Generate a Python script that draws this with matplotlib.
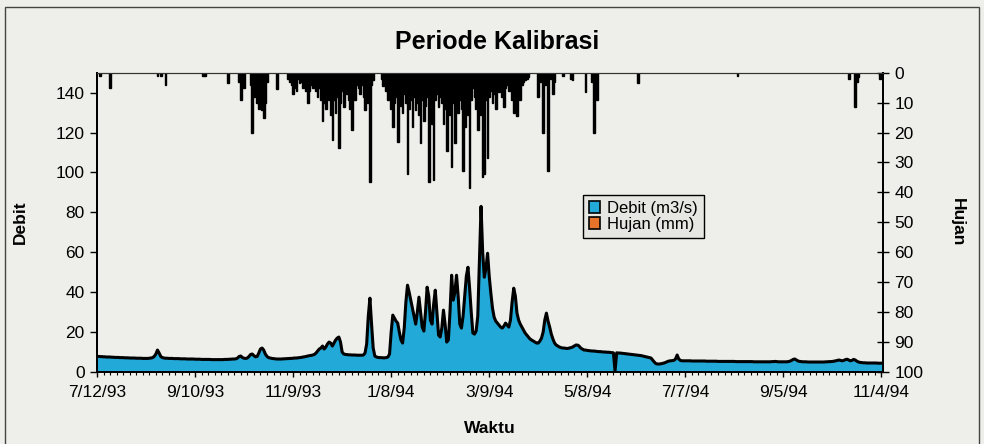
import numpy as np
import matplotlib as mpl
mpl.use("Agg")
import matplotlib.pyplot as plt
import matplotlib.dates as mdates
from matplotlib.patches import Patch, Rectangle

plt.rcParams['font.family'] = ['Liberation Sans', 'DejaVu Sans']

# daily discharge (m3/s), starting 7/12/93
start = np.datetime64('1993-07-12')
debit = [
    7.8, 7.8, 7.7, 7.7, 7.6, 7.6, 7.5, 7.5, 7.5, 7.4,
    7.4, 7.3, 7.3, 7.3, 7.2, 7.2, 7.2, 7.1, 7.1, 7.1,
    7.0, 7.0, 7.0, 7.0, 6.9, 6.9, 6.9, 6.9, 6.8, 6.8,
    6.8, 6.8, 6.9, 7.0, 7.2, 7.8, 9.0, 11.0, 9.5, 7.8,
    7.2, 7.0, 6.9, 6.9, 6.8, 6.8, 6.8, 6.7, 6.7, 6.7,
    6.7, 6.6, 6.6, 6.6, 6.6, 6.5, 6.5, 6.5, 6.5, 6.5,
    6.4, 6.4, 6.4, 6.4, 6.3, 6.3, 6.3, 6.3, 6.3, 6.3,
    6.2, 6.2, 6.2, 6.2, 6.2, 6.2, 6.2, 6.2, 6.3, 6.3,
    6.3, 6.4, 6.4, 6.5, 6.5, 6.6, 7.0, 7.8, 8.0, 7.2,
    6.9, 6.8, 7.0, 7.8, 8.8, 9.0, 8.2, 7.6, 7.8, 9.5,
    11.5, 12.0, 11.0, 9.0, 7.8, 7.2, 7.0, 6.8, 6.7, 6.6,
    6.5, 6.5, 6.5, 6.5, 6.6, 6.6, 6.7, 6.7, 6.8, 6.8,
    6.9, 7.0, 7.0, 7.1, 7.2, 7.3, 7.5, 7.6, 7.8, 8.0,
    8.2, 8.3, 8.5, 8.8, 9.5, 10.5, 11.5, 12.0, 13.0, 11.5,
    12.5, 14.0, 15.0, 14.5, 13.0, 14.5, 16.0, 17.0, 17.5, 15.0,
    10.0, 9.0, 8.8, 8.7, 8.6, 8.6, 8.5, 8.5, 8.5, 8.4,
    8.4, 8.4, 8.4, 8.5, 9.5, 14.0, 28.0, 37.0, 24.0, 12.0,
    8.0, 7.5, 7.3, 7.2, 7.2, 7.1, 7.1, 7.2, 7.5, 9.0,
    20.0, 28.5, 27.0, 25.5, 24.5, 20.0, 16.0, 14.5, 22.0, 35.0,
    43.5, 40.0, 36.0, 32.0, 28.0, 24.0, 30.0, 37.5, 30.0, 22.5,
    20.5, 30.0, 42.5, 38.0, 26.0, 24.0, 34.0, 41.0, 30.0, 18.5,
    17.5, 22.0, 31.0, 24.0, 15.0, 16.0, 30.0, 48.5, 36.0, 40.0,
    48.5, 38.0, 24.0, 22.0, 28.0, 38.0, 48.0, 52.5, 42.0, 30.0,
    19.5, 19.0, 20.5, 28.0, 55.0, 83.0, 60.0, 47.5, 52.0, 59.5,
    48.0, 39.5, 32.0, 27.5, 25.5, 24.5, 23.5, 22.5, 22.0, 23.0,
    24.5, 23.5, 22.5, 26.0, 35.0, 42.0, 38.0, 29.5, 26.0, 24.0,
    22.5, 21.0, 19.5, 18.5, 17.5, 16.5, 16.0, 15.5, 15.0, 14.5,
    14.5, 15.5, 17.0, 20.0, 26.0, 29.5, 25.5, 22.5, 19.0, 16.5,
    14.5, 13.5, 13.0, 12.5, 12.2, 12.0, 12.0, 11.8, 11.8, 12.0,
    12.2, 12.5, 13.0, 13.5, 13.5, 13.0, 12.0, 11.5, 11.0, 11.0,
    10.8, 10.7, 10.6, 10.5, 10.5, 10.4, 10.3, 10.2, 10.2, 10.1,
    10.0, 10.0, 9.9, 9.9, 9.8, 9.7, 9.6, 0.5, 9.6, 9.5,
    9.5, 9.4, 9.3, 9.2, 9.1, 9.0, 8.9, 8.8, 8.7, 8.6,
    8.5, 8.4, 8.3, 8.2, 8.0, 7.8, 7.6, 7.4, 7.2, 7.0,
    6.0, 5.0, 4.2, 4.0, 4.0, 4.1, 4.3, 4.5, 4.8, 5.2,
    5.5, 5.6, 5.7, 5.8, 6.5, 8.5, 6.5, 5.8, 5.6, 5.6,
    5.6, 5.6, 5.6, 5.6, 5.5, 5.5, 5.5, 5.5, 5.5, 5.5,
    5.5, 5.5, 5.5, 5.4, 5.4, 5.4, 5.4, 5.4, 5.4, 5.4,
    5.3, 5.3, 5.3, 5.3, 5.3, 5.3, 5.3, 5.3, 5.3, 5.3,
    5.3, 5.2, 5.2, 5.2, 5.2, 5.2, 5.2, 5.2, 5.2, 5.2,
    5.2, 5.2, 5.1, 5.1, 5.1, 5.1, 5.1, 5.1, 5.1, 5.1,
    5.1, 5.1, 5.1, 5.2, 5.2, 5.3, 5.2, 5.1, 5.1, 5.1,
    5.1, 5.1, 5.1, 5.2, 5.4, 5.8, 6.3, 6.5, 6.0, 5.5,
    5.3, 5.2, 5.1, 5.1, 5.1, 5.0, 5.0, 5.0, 5.0, 5.0,
    5.0, 5.0, 5.0, 5.0, 5.0, 5.0, 5.1, 5.1, 5.2, 5.2,
    5.3, 5.4, 5.6, 5.8, 6.0, 5.8, 5.6, 5.8, 6.2, 6.4,
    6.0, 5.6, 5.8, 6.3, 6.0, 5.4, 5.0, 4.8, 4.7, 4.6,
    4.6, 4.5, 4.5, 4.5, 4.5, 4.5, 4.5, 4.5, 4.4, 4.4, 4.4, 4.4,
]

# rainy days (day number from 7/12/93) and daily rainfall (mm)
rain_day = [
    2, 8, 37, 39, 42, 65, 66, 80, 87, 88, 89, 90, 94, 95, 96, 97, 98, 99,
    100, 101, 102, 103, 104, 110,
    117, 118, 119, 120, 121, 122, 123, 124, 125, 126, 127, 128, 129,
    130, 131, 132, 133, 134, 135, 136, 137, 138, 139,
    140, 141, 142, 143, 144, 145, 146, 147, 148, 149,
    150, 151, 152, 153, 154, 155, 156, 157, 158, 159,
    160, 161, 162, 163, 164, 165, 166, 167, 168, 169,
    174, 175, 176, 177, 178, 179,
    180, 181, 182, 183, 184, 185, 186, 187, 188, 189,
    190, 191, 192, 193, 194, 195, 196, 197, 198, 199,
    200, 201, 202, 203, 204, 205, 206, 207, 208, 209,
    210, 211, 212, 213, 214, 215, 216, 217, 218, 219,
    220, 221, 222, 223, 224, 225, 226, 227, 228, 229,
    230, 231, 232, 233, 234, 235, 236, 237, 238, 239,
    240, 241, 242, 243, 244, 245, 246, 247, 248, 249,
    250, 251, 252, 253, 254, 255, 256, 257, 258, 259,
    260, 261, 262, 263, 264,
    270, 271, 273, 274, 276, 278, 279, 280, 285, 290, 291, 299,
    303, 304, 305, 306, 331, 392, 460, 464, 465, 466, 479,
]
rain_mm = [
    1, 5, 1, 1, 4, 1, 1, 3.5, 3, 9, 2, 5, 4, 20, 8, 7, 10, 12,
    8, 12.5, 15, 10, 3, 5.5,
    2, 3, 4, 7, 5, 6, 2, 3.5, 3, 5, 4, 6, 10,
    6, 4, 5, 3, 6, 8, 5, 9, 16, 10,
    12, 7, 9, 14, 22.5, 9, 13.5, 8, 25, 10,
    6, 11.5, 5, 7, 9, 12, 19, 6, 9, 4,
    5, 7, 4, 8, 12.5, 6, 10, 36.5, 4, 2.5,
    2, 4.5, 3, 6, 9, 7,
    12, 18, 10, 8, 23, 9, 11, 13.5, 7, 10,
    34, 12, 9, 18, 8, 12.5, 10, 14, 23.5, 9,
    16, 11, 8, 36.5, 10, 17, 36, 9, 7, 11.5,
    8, 10, 17, 12, 26, 9, 14, 31.5, 10, 23.5,
    8, 13.5, 9, 12, 33, 18, 10, 14, 38.5, 9,
    5, 8, 12, 19, 10, 14, 35, 34, 9, 28.5,
    8, 6, 10, 7, 12, 5, 6.5, 4, 8, 11.5,
    5, 4, 6, 5, 9, 13.5, 8, 14.5, 6, 9,
    4, 3, 2.5, 2, 1.5,
    8, 3, 20, 4, 33, 2, 7, 3, 1, 2, 2.5, 6.5,
    3, 20, 4, 9, 3.5, 1, 2, 11.5, 3, 1.5, 2,
]

tick_every = 60
bg = '#EEEEEA'
cyan = '#22A9D8'
orange = '#E8732A'


def main():
    dates = start + np.arange(len(debit))
    rdates = start + np.array(rain_day)

    fig = plt.figure(figsize=(9.84, 4.44), dpi=100, facecolor=bg)
    ax = fig.add_axes([0.0986, 0.1622, 0.7988, 0.6741])
    ax.set_facecolor(bg)

    ax.fill_between(dates, debit, 0, color=cyan, lw=0, zorder=2)
    ax.plot(dates, debit, color='black', lw=2.2, zorder=3,
            solid_joinstyle='round')
    ax.set_ylim(0, 150)
    ax.set_yticks(np.arange(0, 141, 20))
    ax.set_xlim(dates[0], dates[-1])

    major = start + np.arange(0, len(debit), tick_every)
    ax.set_xticks(major)
    ax.set_xticklabels(['%d/%d/%02d' % (d.month, d.day, d.year % 100)
                        for d in major.astype('datetime64[D]').tolist()])
    ax.xaxis.set_minor_locator(mdates.DayLocator(interval=4))

    ax.tick_params(axis='x', which='major', direction='inout', length=7,
                   width=1, labelsize=12.5, pad=6)
    ax.tick_params(axis='x', which='minor', direction='inout', length=5,
                   width=0.8)
    ax.tick_params(axis='y', direction='out', length=5, width=1,
                   labelsize=12.5, pad=4)

    ax2 = ax.twinx()
    ax2.bar(rdates, rain_mm, width=1.0, color='black', edgecolor='black',
            lw=1.0, zorder=2)
    ax2.set_ylim(100, 0)
    ax2.set_yticks(np.arange(0, 101, 10))
    ax2.tick_params(axis='y', direction='inout', length=8, width=1,
                    labelsize=12.5, pad=4)
    ax2.set_xlim(dates[0], dates[-1])

    for a in (ax, ax2):
        for s in ('left', 'right', 'bottom'):
            a.spines[s].set_linewidth(1.4)
        a.spines['top'].set_linewidth(0.8)
        a.spines['top'].set_color('#333333')

    handles = [Patch(facecolor=cyan, edgecolor='black', lw=1.2),
               Patch(facecolor=orange, edgecolor='black', lw=1.2)]
    leg = ax2.legend(handles, ['Debit (m3/s)', 'Hujan (mm)'],
                     loc='upper left', bbox_to_anchor=(0.618, 0.591),
                     borderaxespad=0, fontsize=12, handlelength=0.7,
                     handleheight=0.7, handletextpad=0.4, borderpad=0.35,
                     labelspacing=0.05, fancybox=False, framealpha=1,
                     edgecolor='black', facecolor='#E6E6E2')
    leg.get_frame().set_linewidth(1.0)

    fig.text(0.505, 0.905, 'Periode Kalibrasi', ha='center', va='center',
             fontsize=18, fontweight='bold')
    fig.text(0.021, 0.5, 'Debit', ha='center', va='center', rotation=90,
             fontsize=12.5, fontweight='bold')
    fig.text(0.973, 0.5, 'Hujan', ha='center', va='center', rotation=270,
             fontsize=12.5, fontweight='bold')
    fig.text(0.498, 0.034, 'Waktu', ha='center', va='center',
             fontsize=12.5, fontweight='bold')

    fig.patches.append(Rectangle((0.005, -0.01), 0.99, 0.995,
                                 transform=fig.transFigure, fill=False,
                                 edgecolor='#444444', lw=1.0))

    fig.savefig('out.png', dpi=100, facecolor=bg)
    plt.close(fig)


if __name__ == '__main__':
    main()
